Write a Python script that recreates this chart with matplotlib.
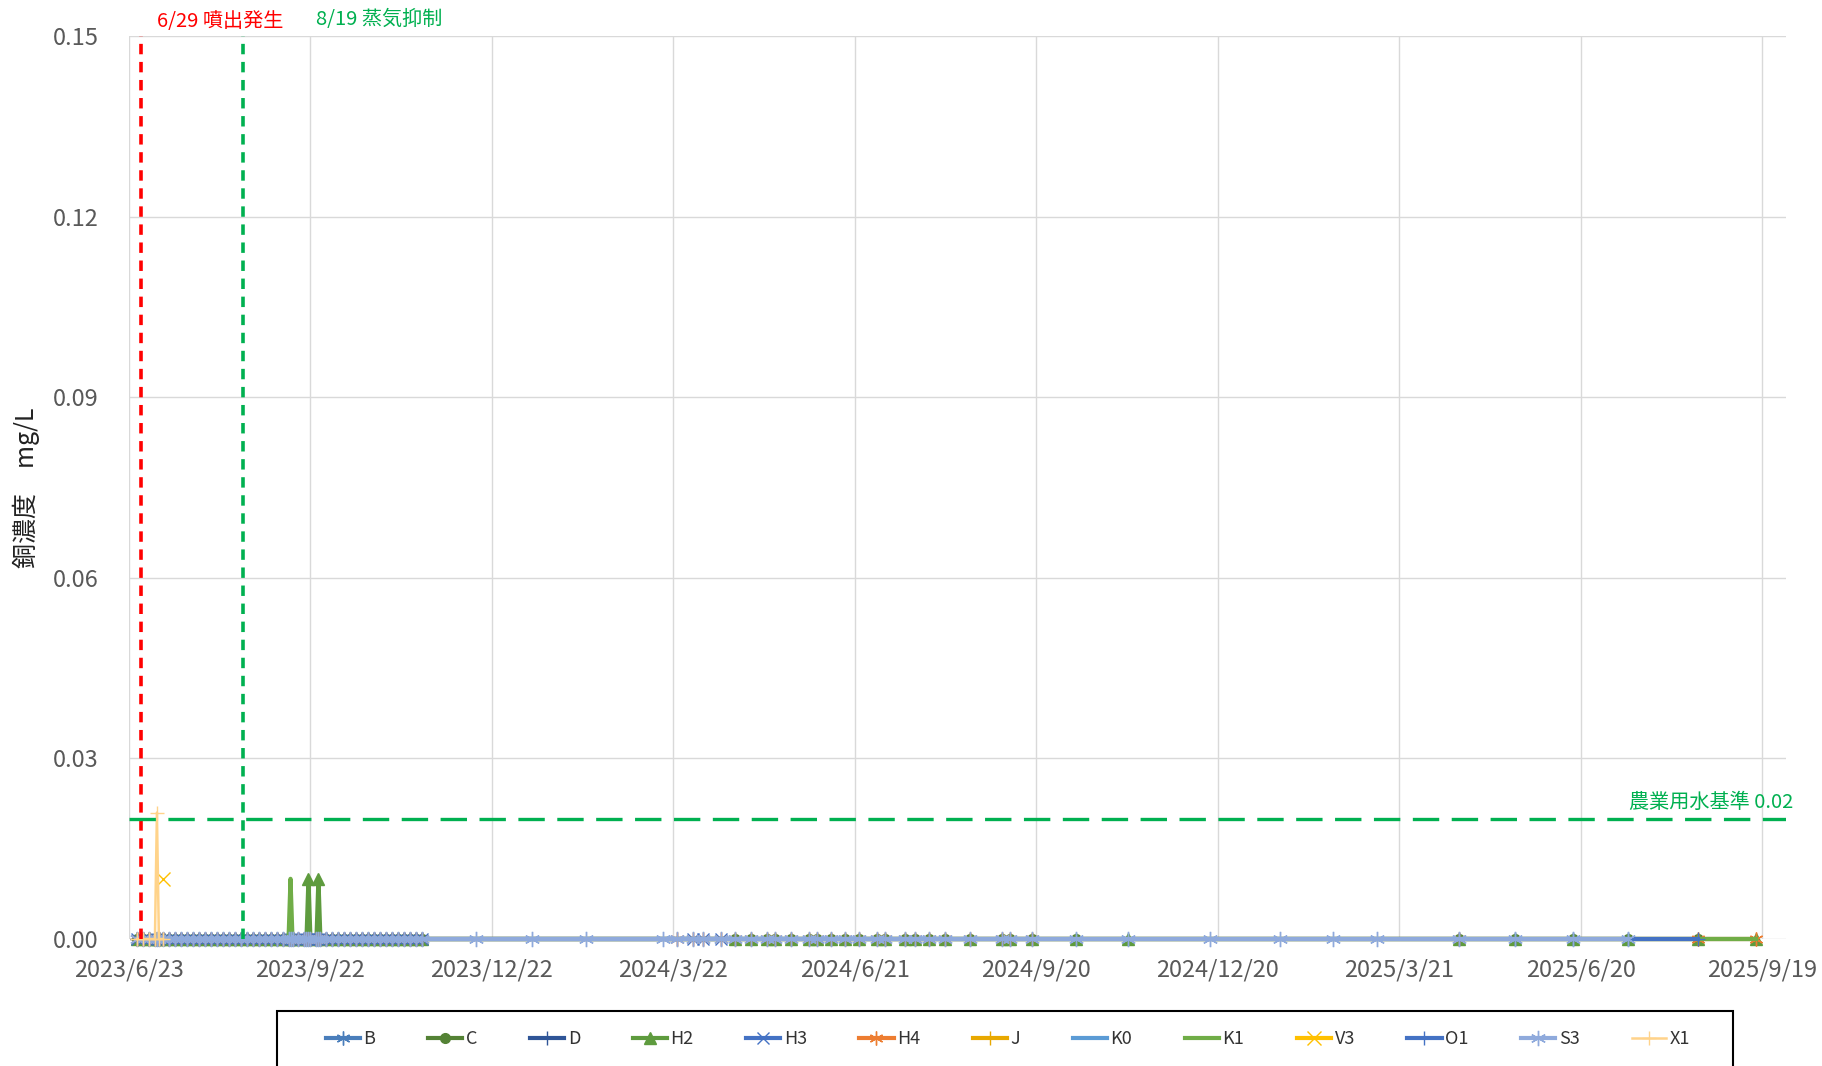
import matplotlib
matplotlib.use('Agg')
import matplotlib.pyplot as plt
import numpy as np
import pandas as pd
from matplotlib.patches import Rectangle

plt.rcParams['font.family'] = ['Noto Sans CJK JP', 'DejaVu Sans']
plt.rcParams['lines.scale_dashes'] = False

nan = np.nan

# ---------------- data ----------------
series_names = ['B', 'C', 'D', 'H2', 'H3', 'H4', 'J', 'K0', 'K1', 'V3', 'O1', 'S3', 'X1']

early_dates = [
    '2023-06-27', '2023-06-30', '2023-07-03', '2023-07-06', '2023-07-07', '2023-07-08',
    '2023-07-10', '2023-07-13', '2023-07-16', '2023-07-19', '2023-07-22',
    '2023-07-25', '2023-07-28', '2023-07-31', '2023-08-03', '2023-08-06',
    '2023-08-09', '2023-08-12', '2023-08-15', '2023-08-18', '2023-08-21',
    '2023-08-24', '2023-08-27', '2023-08-30', '2023-09-02', '2023-09-05',
    '2023-09-08', '2023-09-11', '2023-09-12', '2023-09-13', '2023-09-16',
    '2023-09-19', '2023-09-20', '2023-09-21', '2023-09-22', '2023-09-25',
    '2023-09-26', '2023-09-27', '2023-09-30', '2023-10-03', '2023-10-06',
    '2023-10-09', '2023-10-12', '2023-10-15', '2023-10-18', '2023-10-21',
    '2023-10-24', '2023-10-27', '2023-10-30', '2023-11-02', '2023-11-05',
    '2023-11-08', '2023-11-11', '2023-11-14', '2023-11-17']
early_base = [0.0, 0.0, 0.0, 0.0, 0.0, 0.0, 0.0, 0.0, 0.0, 0.0, 0.0,
              0.0, 0.0, 0.0, 0.0, 0.0, 0.0, 0.0, 0.0, 0.0, 0.0, 0.0,
              0.0, 0.0, 0.0, 0.0, 0.0, 0.0, 0.0, 0.0, 0.0, 0.0, 0.0,
              0.0, 0.0, 0.0, 0.0, 0.0, 0.0, 0.0, 0.0, 0.0, 0.0, 0.0,
              0.0, 0.0, 0.0, 0.0, 0.0, 0.0, 0.0, 0.0, 0.0, 0.0, 0.0]
# series measured only during the first weeks
first_dates = ['2023-06-27', '2023-06-30', '2023-07-03', '2023-07-06', '2023-07-07',
               '2023-07-08', '2023-07-10']
X1_values = [0.0, 0.0, 0.0, 0.0, 0.021, 0.0, 0.0]
J_values = [0.0, 0.0, 0.0, 0.0, 0.0, 0.0, 0.0]
V3_values = [nan, nan, nan, nan, nan, nan, 0.01]
H2_early = [0.0, 0.0, 0.0, 0.0, 0.0, 0.0, 0.0, 0.0, 0.0, 0.0, 0.0,
            0.0, 0.0, 0.0, 0.0, 0.0, 0.0, 0.0, 0.0, 0.0, 0.0, 0.0,
            0.0, 0.0, 0.0, 0.0, 0.0, 0.0, 0.0, 0.0, 0.0, 0.0, 0.0,
            0.01, 0.0, 0.0, 0.01, 0.0, 0.0, 0.0, 0.0, 0.0, 0.0, 0.0,
            0.0, 0.0, 0.0, 0.0, 0.0, 0.0, 0.0, 0.0, 0.0, 0.0, 0.0]
K1_early = [0.0, 0.0, 0.0, 0.0, 0.0, 0.0, 0.0, 0.0, 0.0, 0.0, 0.0,
            0.0, 0.0, 0.0, 0.0, 0.0, 0.0, 0.0, 0.0, 0.0, 0.0, 0.0,
            0.0, 0.0, 0.0, 0.0, 0.0, 0.0, 0.01, 0.0, 0.0, 0.0, 0.0,
            0.0, 0.0, 0.0, 0.0, 0.0, 0.0, 0.0, 0.0, 0.0, 0.0, 0.0,
            0.0, 0.0, 0.0, 0.0, 0.0, 0.0, 0.0, 0.0, 0.0, 0.0, 0.0]

sparse_dates = ['2023-12-14', '2024-01-11', '2024-02-07']
sparse_base = [0.0, 0.0, 0.0]

mid_dates = ['2024-03-17', '2024-03-24', '2024-04-01', '2024-04-06', '2024-04-15',
             '2024-04-22', '2024-04-30', '2024-05-08', '2024-05-12', '2024-05-20',
             '2024-05-29', '2024-06-02', '2024-06-09', '2024-06-16', '2024-06-23',
             '2024-07-02', '2024-07-06', '2024-07-16', '2024-07-21', '2024-07-28',
             '2024-08-05', '2024-08-18', '2024-09-03', '2024-09-07', '2024-09-18',
             '2024-10-10', '2024-11-05']
mid_base = [0.0, 0.0, 0.0, 0.0, 0.0, 0.0, 0.0, 0.0, 0.0, 0.0, 0.0, 0.0, 0.0, 0.0,
            0.0, 0.0, 0.0, 0.0, 0.0, 0.0, 0.0, 0.0, 0.0, 0.0, 0.0, 0.0, 0.0]

winter_dates = ['2024-12-16', '2025-01-20', '2025-02-16', '2025-03-10']
winter_base = [0.0, 0.0, 0.0, 0.0]

late_dates = ['2025-04-20', '2025-05-18', '2025-06-16', '2025-07-14', '2025-08-18', '2025-09-16']
late_base = [0.0, 0.0, 0.0, 0.0, 0.0, 0.0]

xtick_labels = ['2023/6/23', '2023/9/22', '2023/12/22', '2024/3/22', '2024/6/21',
                '2024/9/20', '2024/12/20', '2025/3/21', '2025/6/20', '2025/9/19']
ytick_values = [0.0, 0.03, 0.06, 0.09, 0.12, 0.15]
ytick_labels = ['0.00', '0.03', '0.06', '0.09', '0.12', '0.15']

event_dates = ['2023-06-29', '2023-08-19']
event_labels = ['6/29 噴出発生', '8/19 蒸気抑制']
limit_value = 0.02
limit_label = '農業用水基準 0.02'

# ---------------- series assembly ----------------
series = {
    'B':  (early_dates, early_base),
    'C':  (early_dates + mid_dates[5:26] + late_dates[0:5],
           early_base + mid_base[5:26] + late_base[0:5]),
    'D':  (early_dates, early_base),
    'H2': (early_dates + mid_dates[5:27] + late_dates,
           H2_early + mid_base[5:27] + late_base),
    'H3': (early_dates + mid_dates[2:5], early_base + mid_base[2:5]),
    'H4': (early_dates + mid_dates[1:25] + late_dates[0:1] + late_dates[4:6],
           early_base + mid_base[1:25] + late_base[0:1] + late_base[4:6]),
    'J':  (first_dates, J_values),
    'K0': (early_dates, early_base),
    'K1': (early_dates + late_dates[3:6], K1_early + late_base[3:6]),
    'V3': (first_dates, V3_values),
    'O1': (early_dates + late_dates[0:5], early_base + late_base[0:5]),
    'S3': (early_dates + sparse_dates + mid_dates + winter_dates + late_dates[0:4],
           early_base + sparse_base + mid_base + winter_base + late_base[0:4]),
    'X1': (first_dates, X1_values),
}

AST = (6, 2, 0)
styles = {
    'B':  dict(color='#4A7EBB', marker=AST, ms=10, mew=1.0, lw=3.0),
    'C':  dict(color='#548235', marker='o', ms=7, mew=1.0, lw=3.0),
    'D':  dict(color='#2F5597', marker='+', ms=10, mew=1.0, lw=3.0),
    'H2': dict(color='#5E9B3E', marker='^', ms=8, mew=1.0, lw=3.0),
    'H3': dict(color='#4472C4', marker='x', ms=9, mew=1.0, lw=3.0),
    'H4': dict(color='#ED7D31', marker=AST, ms=10, mew=1.0, lw=3.0),
    'J':  dict(color='#E8A800', marker='+', ms=10, mew=1.0, lw=3.0),
    'K0': dict(color='#5B9BD5', marker='None', ms=0, mew=0, lw=3.0),
    'K1': dict(color='#70AD47', marker='None', ms=0, mew=0, lw=3.0),
    'V3': dict(color='#FFC000', marker='x', ms=10, mew=1.0, lw=3.0),
    'O1': dict(color='#4472C4', marker='+', ms=10, mew=1.0, lw=3.0),
    'S3': dict(color='#8FAADC', marker=AST, ms=11, mew=1.0, lw=3.0),
    'X1': dict(color='#FFD38A', marker='+', ms=10, mew=1.0, lw=1.8),
}

# ---------------- figure ----------------
W, H = 1822, 1066
fig = plt.figure(figsize=(W / 100, H / 100), dpi=100)
ax_l, ax_r, ax_t, ax_b = 129, 1786, 36, 939
ax = fig.add_axes([ax_l / W, (H - ax_b) / H, (ax_r - ax_l) / W, (ax_b - ax_t) / H])

for name in series_names:
    d, v = series[name]
    st = styles[name]
    ax.plot(pd.to_datetime(d), v, color=st['color'], lw=st['lw'],
            marker=st['marker'], markersize=st['ms'], markeredgewidth=st['mew'],
            markeredgecolor=st['color'], markerfacecolor=st['color'],
            label=name, solid_joinstyle='round', clip_on=False)

# event lines
event_colors = ['#FF0000', '#00B050']
for d, c in zip(event_dates, event_colors):
    ax.axvline(pd.Timestamp(d), ymin=0, ymax=1, color=c, lw=2.6,
               dashes=(7.5, 5.5), zorder=5)

# limit line
ax.axhline(limit_value, color='#00B050', lw=2.4, dashes=(19, 9), zorder=5)

ax.set_xlim(pd.Timestamp('2023-06-23'), pd.Timestamp('2025-10-01'))
ax.set_ylim(0, 0.15)
xt = [pd.Timestamp(s.replace('/', '-')) for s in xtick_labels]
ax.set_xticks(xt)
ax.set_xticklabels(xtick_labels)
ax.set_yticks(ytick_values)
ax.set_yticklabels(ytick_labels)
ax.tick_params(axis='both', length=0, labelsize=17, labelcolor='#595959')
ax.tick_params(axis='x', pad=14)
ax.tick_params(axis='y', pad=22)
ax.grid(True, color='#D9D9D9', lw=1.0)
ax.set_axisbelow(True)
for s in ax.spines.values():
    s.set_visible(False)

# texts
fig.text(157 / W, 1 - 22 / H, event_labels[0], color='#FF0000', fontsize=14.5,
         ha='left', va='center')
fig.text(316 / W, 1 - 19 / H, event_labels[1], color='#00B050', fontsize=14.5,
         ha='left', va='center')
fig.text(1793 / W, 1 - 802 / H, limit_label, color='#00B050', fontsize=14.5,
         ha='right', va='center')
fig.text(26 / W, 1 - 488 / H, '銅濃度\u3000mg/L', rotation=90, color='#222222',
         fontsize=18, ha='center', va='center')

# legend
fig.patches.append(Rectangle((277 / W, -0.02), (1733 - 277) / W, 55 / H + 0.02,
                             transform=fig.transFigure, fill=False,
                             edgecolor='black', lw=1.5))
handles, labels = ax.get_legend_handles_labels()
leg = fig.legend(handles, labels, loc='center', bbox_to_anchor=(1008 / W, 1 - 1039 / H),
                 ncol=13, frameon=False, fontsize=13, handlelength=1.9,
                 handletextpad=0.2, columnspacing=2.9)
for t in leg.get_texts():
    t.set_color('#333333')

fig.savefig('out.png', dpi=100)
